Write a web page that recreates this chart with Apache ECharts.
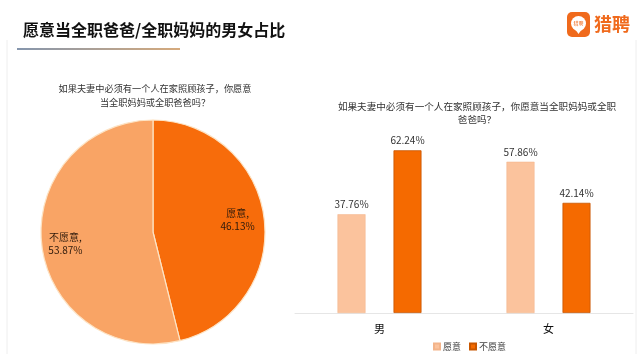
<!DOCTYPE html>
<html>
<head>
<meta charset="utf-8">
<script src="https://cdn.jsdelivr.net/npm/echarts@6/dist/echarts.min.js"></script>
<style>
    html,body{margin:0;padding:0;background:#fff;}
    #chart{width:640px;height:354px;}
</style>
</head>
<body>
<div id="chart"></div>
<script>
// 饼图：整体
let pieNames=["愿意","不愿意"];
let pieValues=[46.13,53.87];
// 柱状图：按性别
let genders=["男","女"];
let yesValues=[37.76,57.86];
let noValues=[62.24,42.14];
let legendNames=["愿意","不愿意"];

let font='"Noto Sans CJK SC", "Noto Sans", sans-serif';
let question='如果夫妻中必须有一个人在家照顾孩子，你愿意';

var myChart=echarts.init(document.getElementById('chart'),null,{renderer:'canvas'});
var option={
    backgroundColor:'#fff',
    textStyle:{fontFamily:font},
    title:[
        {
            text:'愿意当全职爸爸/全职妈妈的男女占比',
            left:18,top:17,
            textStyle:{fontSize:16,fontWeight:'bold',color:'#111',fontFamily:font}
        },
        {
            text:question+'\n当全职妈妈或全职爸爸吗？',
            left:150,top:77,textAlign:'center',
            textStyle:{fontSize:9.2,fontWeight:'normal',color:'#333',lineHeight:14,fontFamily:font}
        },
        {
            text:question+'当全职妈妈或全职\n爸爸吗？',
            left:472,top:95,textAlign:'center',
            textStyle:{fontSize:9.6,fontWeight:'normal',color:'#333',lineHeight:13,fontFamily:font}
        }
    ],
    graphic:[
        {   // 标题下划线
            type:'rect',shape:{x:17,y:48,width:163,height:2},
            style:{fill:new echarts.graphic.LinearGradient(0,0,1,0,[
                {offset:0,color:'#8596ad'},{offset:1,color:'#d6aa7c'}])}
        },
        {type:'line',shape:{x1:7,y1:40,x2:7,y2:354},style:{stroke:'#eeeeee',lineWidth:1}},
        {type:'line',shape:{x1:636,y1:40,x2:636,y2:354},style:{stroke:'#eeeeee',lineWidth:1}},
        {   // logo
            type:'group',left:567,top:12,
            children:[
                {type:'rect',shape:{x:0,y:0,width:23,height:25,r:5},style:{fill:'#f06a1c'}},
                {type:'circle',shape:{cx:11.5,cy:11.5,r:7.5},style:{fill:'#fff'}},
                {type:'polygon',shape:{points:[[8,17],[15,17],[11.5,22]]},style:{fill:'#fff'}},
                {type:'text',style:{x:11.5,y:11.5,text:'猎聘',fontSize:5,fill:'#f06a1c',align:'center',verticalAlign:'middle',fontFamily:font}},
                {type:'text',style:{x:27,y:12.5,text:'猎聘',fontSize:18,fontWeight:'bold',fill:'#f06a1c',verticalAlign:'middle',fontFamily:font}}
            ]
        }
    ],
    legend:{
        data:legendNames,
        left:428,top:340,
        padding:[2,5,2,5],
        itemWidth:6,itemHeight:6,itemGap:8,icon:'rect',
        selectedMode:false,
        textStyle:{fontSize:9,color:'#444',padding:[0,0,0,-2]}
    },
    grid:{left:295,right:7,top:130,bottom:41},
    xAxis:{
        type:'category',
        data:genders,
        axisLine:{lineStyle:{color:'#e6e6e6',width:1}},
        axisTick:{show:false},
        axisLabel:{fontSize:11,color:'#111',margin:10}
    },
    yAxis:{
        type:'value',min:0,max:70,
        show:false,
        splitLine:{show:false}
    },
    series:[
        {
            type:'pie',
            center:[153,232],
            radius:[0,112],
            startAngle:90,
            clockwise:true,
            silent:true,
            data:pieNames.map(function(n,i){
                return {name:n,value:pieValues[i],
                    itemStyle:{color:i===0?'#f76c0b':'#f9a465'}};
            }),
            itemStyle:{borderColor:'#fde3c4',borderWidth:1.2},
            label:{
                position:'inner',
                fontSize:10,
                color:'#2e1a0c',
                lineHeight:13,
                formatter:function(p){return p.name+',\n'+p.value.toFixed(2)+'%';}
            },
            labelLayout:function(p){
                return p.dataIndex===0?{dx:26,dy:-5}:{dx:-29,dy:5};
            }
        },
        {
            name:legendNames[0],
            type:'bar',
            barWidth:28,
            barGap:'100%',
            data:yesValues,
            itemStyle:{color:'#fbc39d',borderColor:'#f3b48a',borderWidth:0.5},
            label:{show:true,position:'top',distance:5,fontSize:10,color:'#333',
                formatter:function(p){return p.value.toFixed(2)+'%';}}
        },
        {
            name:legendNames[1],
            type:'bar',
            barWidth:28,
            data:noValues,
            itemStyle:{color:'#f56a00',borderColor:'#c85600',borderWidth:0.8},
            label:{show:true,position:'top',distance:5,fontSize:10,color:'#333',
                formatter:function(p){return p.value.toFixed(2)+'%';}}
        }
    ]
};
myChart.setOption(option,true);
</script>
</body>
</html>
